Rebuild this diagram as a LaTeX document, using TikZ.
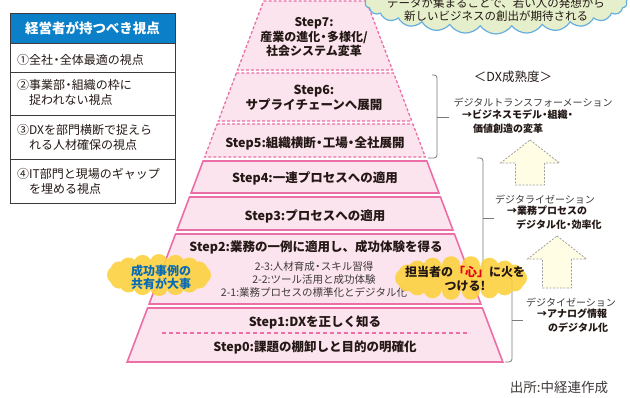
\documentclass[tikz,border=0pt]{standalone}
\usepackage{fontspec}
\newfontfamily\jp{Noto Sans CJK JP}
\usetikzlibrary{shapes.symbols}
\definecolor{pinkfill}{HTML}{FCE4EE}
\definecolor{pinkline}{HTML}{EC6EA6}
\definecolor{txtdark}{HTML}{231815}
\definecolor{txtgray}{HTML}{3E3A39}
\definecolor{headblue}{HTML}{0B7FC7}
\definecolor{cloudgreen}{HTML}{E6EFCB}
\definecolor{cloudblue}{HTML}{65AEDF}
\definecolor{puffyellow}{HTML}{FCD13C}
\definecolor{puffblue}{HTML}{0A6BB5}
\definecolor{heartred}{HTML}{E60012}
\definecolor{arrowfill}{HTML}{FFFDE3}
\definecolor{brackgray}{HTML}{7D7B7A}
\newcommand{\ndot}{\makebox[0.55em]{・}}
\tikzset{
  dashlayer/.style={fill=pinkfill, draw=pinkline, line width=1.3pt, dash pattern=on 3pt off 2pt},
  solidlayer/.style={fill=pinkfill, draw=pinkline, line width=1.6pt},
  steplabel/.style={font=\jp\bfseries\fontsize{12.5}{15}\selectfont, text=txtdark, align=center, inner sep=0pt},
  sublabel/.style={font=\jp\fontsize{10.5}{13}\selectfont, text=txtgray, align=center, inner sep=0pt},
  viewrow/.style={font=\jp\fontsize{12}{15}\selectfont, text=txtdark, align=left, anchor=west, inner sep=0pt},
  levelname/.style={font=\jp\fontsize{10}{13}\selectfont, text=txtgray, inner sep=0pt},
  levelnote/.style={font=\jp\bfseries\fontsize{10}{13.5}\selectfont, text=txtdark, align=left, anchor=north west, inner sep=0pt},
  bracket/.style={draw=brackgray, line width=0.8pt, rounded corners=3pt},
  uparrow/.style={fill=arrowfill, draw=gray!75, line width=0.8pt, dash pattern=on 2pt off 1.5pt},
  puff/.style={fill=puffyellow, fill opacity=0.88},
  pufftext/.style={align=center, inner sep=0pt, font=\jp\bfseries\fontsize{12}{13.5}\selectfont}
}
\begin{document}
\begin{tikzpicture}[x=1pt, y=-1pt]
  \clip (0,0) rectangle (630,397);
  \fill[white] (0,0) rectangle (630,397);
  % pyramid layers
  \foreach \ya/\yb in {1/70,73/121,124/157}
    \draw[dashlayer] ({264-0.378*\ya},\ya) -- ({366+0.378*\ya},\ya) -- ({366+0.378*\yb},\yb) -- ({264-0.378*\yb},\yb) -- cycle;
  \foreach \ya/\yb in {161/193,197/230,234/304,308/362}
    \draw[solidlayer] ({264-0.378*\ya},\ya) -- ({366+0.378*\ya},\ya) -- ({366+0.378*\yb},\yb) -- ({264-0.378*\yb},\yb) -- cycle;
  \draw[draw=pinkline, line width=1.2pt, dash pattern=on 4pt off 3pt] (162,333) -- (470,333);
  \node[steplabel, font=\jp\bfseries\fontsize{12}{14.5}\selectfont] (s7) at (314,37.5) {Step7:\\産業の進化\ndot 多様化/\\社会システム変革};
  \node[steplabel] (s6) at (314,97.5) {Step6:\\サプライチェーンへ展開};
  \node[steplabel] (s5) at (315,143) {Step5:組織横断\ndot 工場\ndot 全社展開};
  \node[steplabel] (s4) at (315,178) {Step4:一連プロセスへの適用};
  \node[steplabel] (s3) at (315,216) {Step3:プロセスへの適用};
  \node[steplabel] (s2) at (316,247) {Step2:業務の一例に適用し、成功体験を得る};
  \node[sublabel] (s2sub) at (314,280) {2-3:人材育成\ndot スキル習得\\2-2:ツール活用と成功体験\\2-1:業務プロセスの標準化とデジタル化};
  \node[steplabel] (s1) at (315,322) {Step1:DXを正しく知る};
  \node[steplabel] (s0) at (315,347) {Step0:課題の棚卸しと目的の明確化};
  % viewpoints box
  \fill[headblue] (10,13) rectangle (175,43);
  \draw[txtgray, line width=0.8pt] (10,13) rectangle (175,203);
  \foreach \yr in {43,72,115,159}
    \draw[txtgray, line width=0.8pt] (10,\yr) -- (175,\yr);
  \node[font=\jp\bfseries\fontsize{13.5}{15}\selectfont, text=white, inner sep=0pt] (vhead) at (92.5,28) {経営者が持つべき視点};
  \node[viewrow] (v1) at (17,60) {①全社\ndot 全体最適の視点};
  \node[viewrow] (v2) at (17,92.5) {②事業部\ndot 組織の枠に\\\hspace*{1em}捉われない視点};
  \node[viewrow] (v3) at (17,137.5) {③DXを部門横断で捉えら\\\hspace*{1em}れる人材確保の視点};
  \node[viewrow] (v4) at (17,181.5) {④IT部門と現場のギャップ\\\hspace*{1em}を埋める視点};
  % DX maturity
  \node[font=\jp\fontsize{12.5}{15}\selectfont, text=txtdark, inner sep=0pt] (dxlevel) at (513,77) {＜DX成熟度＞};
  \draw[bracket] (432,75) -- (437,75) -- (437,158) -- (428,158);
  \draw[bracket] (437,117) -- (449,117);
  \draw[bracket] (477,158) -- (483,158) -- (483,272) -- (476,272);
  \draw[bracket] (483,218) -- (494,218);
  \draw[bracket] (505,278) -- (512,278) -- (512,362) -- (505,362);
  \draw[bracket] (512,320) -- (523,320);
  \node[levelname] (dxt) at (533,103) {デジタルトランスフォーメーション};
  \node[levelnote] (dxtnote) at (462,110) {→ビジネスモデル\ndot 組織\ndot\\\hspace*{1.1em}価値創造の変革};
  \node[levelname] (dzn) at (545,200) {デジタライゼーション};
  \node[levelnote] (dznnote) at (507,206) {→業務プロセスの\\\hspace*{0.9em}デジタル化\ndot 効率化};
  \node[levelname] (dtn) at (571,303) {デジタイゼーション};
  \node[levelnote] (dtnnote) at (537,309) {→アナログ情報\\\hspace*{1.1em}のデジタル化};
  \draw[uparrow] (530,140) -- (559.5,163) -- (544.5,163) -- (544.5,185) -- (515.5,185) -- (515.5,163) -- (500.5,163) -- cycle;
  \draw[uparrow] (557,236) -- (586.5,259) -- (571.5,259) -- (571.5,288) -- (542.5,288) -- (542.5,259) -- (527.5,259) -- cycle;
  % clouds
  \node[cloud, cloud puffs=26, cloud puff arc=110, cloud ignores aspect, fill=cloudgreen, draw=cloudblue, line width=1.2pt, minimum width=262pt, minimum height=64pt, inner sep=0pt] (idea) at (496,2) {};
  \node[font=\jp\fontsize{11.5}{13}\selectfont, text=txtdark, align=center, inner sep=0pt] (ideatxt) at (496,10) {データが集まることで、若い人の発想から\\新しいビジネスの創出が期待される};
  \fill[puff] (159,275) ellipse [x radius=43pt, y radius=12pt]
    foreach \t in {0,22.5,...,337.5} { ({159+43*cos(\t)},{275+12*sin(\t)}) circle [radius=9pt] };
  \node[pufftext, text=puffblue] (sharetxt) at (161,277.5) {成功事例の\\共有が大事};
  \fill[puff] (461,278) ellipse [x radius=57pt, y radius=13pt]
    foreach \t in {0,20,...,340} { ({461+57*cos(\t)},{278+13*sin(\t)}) circle [radius=9pt] };
  \node[pufftext, text=txtdark] (firetxt) at (465,279) {担当者の{\color{heartred}「心」}に火を\\つける!};
  % source
  \node[font=\jp\fontsize{13.5}{15}\selectfont, text=txtgray, inner sep=0pt] (src) at (559,387) {出所:中経連作成};
\end{tikzpicture}
\end{document}
